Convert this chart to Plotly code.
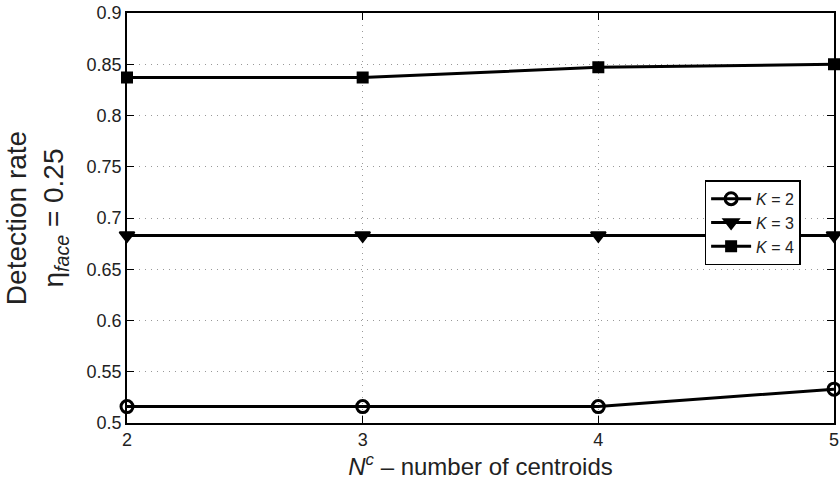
import plotly.graph_objects as go

centroids = [2, 3, 4, 5]
k2 = [0.516, 0.516, 0.516, 0.533]
k3 = [0.683, 0.683, 0.683, 0.683]
k4 = [0.837, 0.837, 0.847, 0.850]
x_ticks = [2, 3, 4, 5]
y_ticks = [0.5, 0.55, 0.6, 0.65, 0.7, 0.75, 0.8, 0.85, 0.9]
y_labels = ["0.5", "0.55", "0.6", "0.65", "0.7", "0.75", "0.8", "0.85", "0.9"]

fig = go.Figure()
series = [
    ("<i>K</i> = 2", k2, "circle-open", 12, 3),
    ("<i>K</i> = 3", k3, "triangle-down", 13, 2),
    ("<i>K</i> = 4", k4, "square", 10, 2),
]
for name, vals, sym, sz, lw in series:
    fig.add_trace(go.Scatter(
        x=centroids, y=vals, name=name, mode="lines+markers",
        line=dict(color="black", width=3),
        marker=dict(symbol=sym, size=sz, color="black",
                    line=dict(color="black", width=lw)),
        cliponaxis=False,
    ))

axis_common = dict(
    showline=True, linecolor="black", linewidth=1.5, mirror="ticks",
    ticks="inside", ticklen=7, tickcolor="black",
    showgrid=True, gridcolor="#999999", griddash="1px,5px", gridwidth=1,
    zeroline=False, tickfont=dict(size=18, color="#222"), automargin=False,
    ticklabeloverflow="allow",
)

fig.update_xaxes(range=[2, 5], tickvals=x_ticks, **axis_common,
                 title=dict(text="<i>N</i><sup><i>c</i></sup> – number of centroids",
                            font=dict(size=24, color="#222"), standoff=8))
fig.update_yaxes(range=[0.5, 0.9], tickvals=y_ticks, ticktext=y_labels, **axis_common,
                 title=dict(text="Detection rate<br>η<sub><i>face</i></sub> = 0.25",
                            font=dict(size=28, color="#222"), standoff=15))

fig.update_layout(
    width=840, height=492,
    margin=dict(l=127, r=6, t=13, b=69),
    paper_bgcolor="white", plot_bgcolor="white",
    font=dict(family="Liberation Sans, Arial, sans-serif", color="#222"),
    legend=dict(x=0.817, y=0.592, xanchor="left", yanchor="top",
                bordercolor="black", borderwidth=1.5, bgcolor="white",
                font=dict(size=16, color="#222"), tracegroupgap=0,
                itemwidth=40),
    showlegend=True,
)

fig.write_html("out.html", config={"displayModeBar": False},
               post_script="document.body.style.margin='0';")
